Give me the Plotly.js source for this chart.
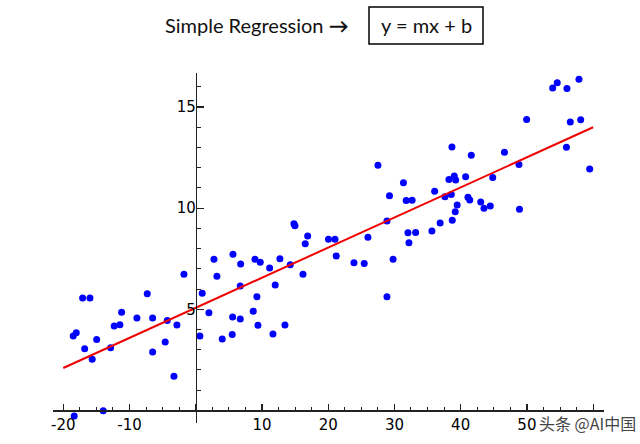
<!DOCTYPE html>
<html><head><meta charset="utf-8">
<script src="https://cdn.plot.ly/plotly-3.0.1.min.js"></script>
<style>html,body{margin:0;padding:0;background:#fff;} #chart{width:640px;height:444px;}</style>
</head><body><div id="chart"></div>
<script>
const pointX = [-18.50,-18.04,-17.08,-15.97,-16.77,-15.63,-14.96,-18.35,-13.97,-12.85,
  -12.31,-11.45,-11.19,-8.88,-7.32,-6.51,-6.51,-4.61,-4.30,-2.84,
  -3.29,-1.78,0.63,0.98,1.99,2.75,3.20,4.00,5.51,5.57,
  5.62,6.78,6.72,6.72,8.68,8.94,9.24,9.39,9.74,11.16,
  11.66,12.00,12.71,13.47,14.27,14.83,14.98,16.19,16.53,16.90,
  20.04,21.02,21.21,23.89,25.44,26.00,27.51,28.87,29.25,28.87,
  29.80,31.36,31.77,32.67,32.04,32.19,33.20,35.66,36.07,36.90,
  37.63,38.23,38.68,39.03,39.24,38.58,39.47,39.18,38.73,40.75,
  41.10,41.37,41.60,43.03,43.52,44.47,44.84,46.61,48.80,48.88,
  49.96,53.89,54.58,56.05,57.86,55.97,56.55,58.12,59.48];
const pointY = [3.68,3.84,5.56,5.56,3.05,2.53,3.51,-0.28,-0.01,3.10,
  4.17,4.24,4.85,4.57,5.77,4.57,2.89,3.38,4.45,4.22,
  1.69,6.73,3.68,5.79,4.83,7.48,6.63,3.53,3.76,4.62,
  7.72,7.24,6.15,4.52,4.90,7.47,5.62,4.21,7.32,7.04,
  3.78,6.20,7.50,4.22,7.20,9.23,9.13,6.73,8.24,8.62,
  8.46,8.46,7.63,7.30,7.26,8.56,12.12,9.36,10.61,5.62,
  7.48,11.26,10.38,10.39,8.78,8.29,8.80,8.87,10.83,9.26,
  10.56,11.42,13.02,11.59,11.39,10.67,10.16,9.82,9.40,11.55,
  10.54,10.40,12.62,10.30,10.00,10.10,11.52,12.76,12.16,9.94,
  14.38,15.94,16.20,15.91,16.37,13.01,14.26,14.37,11.93];
const fitX = [-20, 60];
const fitY = [2.1, 14.0];
const xTickVals = [-20, -10, 0, 10, 20, 30, 40, 50, 60];
const xTickText = ['-20', '-10', '', '10', '20', '30', '40', '50', ''];
const yTickVals = [0, 5, 10, 15];
const yTickText = ['', '5', '10', '15'];
const titleText = 'Simple Regression <b>→</b>';
const formulaText = 'y = mx + b';
const watermarkText = '头条 @AI中国';

const xRange = [-21.55, 61.64];
const yRange = [-0.62, 16.68];
const W = 640, H = 444;
const M = {l: 53, r: 36, t: 73, b: 21};
const pw = W - M.l - M.r, ph = H - M.t - M.b;
const px = v => (v - M.l) / pw;
const py = v => (H - M.b - v) / ph;

const axisCommon = {
  showline: true, linecolor: '#222', linewidth: 1.3,
  ticks: 'inside', tickcolor: '#222', tickwidth: 1.2,
  tickmode: 'array',
  tickfont: {family: 'DejaVu Sans', size: 15, color: '#000'},
  showgrid: false, zeroline: false, anchor: 'free', fixedrange: true
};

const data = [
  {type: 'scatter', mode: 'markers', x: pointX, y: pointY,
   marker: {color: '#0000ff', size: 7}, cliponaxis: false, hoverinfo: 'skip'},
  {type: 'scatter', mode: 'lines', x: fitX, y: fitY,
   line: {color: '#f00000', width: 2}, hoverinfo: 'skip'}
];

const layout = {
  width: W, height: H, margin: {l: M.l, r: M.r, t: M.t, b: M.b, pad: 0},
  paper_bgcolor: '#fff', plot_bgcolor: '#fff', showlegend: false,
  xaxis: Object.assign({}, axisCommon, {
    range: xRange, position: -yRange[0] / (yRange[1] - yRange[0]),
    tickvals: xTickVals, ticktext: xTickText, ticklen: 6,
    minor: {tickmode: 'linear', tick0: 0, dtick: 2.5, ticks: 'inside', ticklen: 3, tickcolor: '#222', tickwidth: 1, showgrid: false}
  }),
  yaxis: Object.assign({}, axisCommon, {
    range: yRange, position: -xRange[0] / (xRange[1] - xRange[0]),
    tickvals: yTickVals, ticktext: yTickText, ticklen: 7, ticklabelstandoff: -3,
    minor: {tickmode: 'linear', tick0: 0, dtick: 1, ticks: 'inside', ticklen: 3.5, tickcolor: '#222', tickwidth: 1, showgrid: false}
  }),
  shapes: [
    {type: 'rect', xref: 'paper', yref: 'paper', x0: px(369), x1: px(483), y0: py(44), y1: py(7),
     line: {color: '#000', width: 1.5}, fillcolor: 'rgba(0,0,0,0)'}
  ],
  annotations: [
    {text: titleText, xref: 'paper', yref: 'paper', x: px(163), y: py(25), xanchor: 'left', yanchor: 'middle',
     showarrow: false, font: {family: 'Lato', size: 20, color: '#111'}},
    {text: formulaText, xref: 'paper', yref: 'paper', x: px(426), y: py(25), xanchor: 'center', yanchor: 'middle',
     showarrow: false, font: {family: 'Lato', size: 20, color: '#111'}},
    {text: watermarkText, xref: 'paper', yref: 'paper', x: px(538), y: py(423), xanchor: 'left', yanchor: 'middle',
     showarrow: false, borderpad: 0,
     font: {family: 'Noto Sans CJK SC', size: 16, color: '#444'}}
  ]
};

Plotly.newPlot('chart', data, layout, {displayModeBar: false, staticPlot: true});
</script>
</body></html>
